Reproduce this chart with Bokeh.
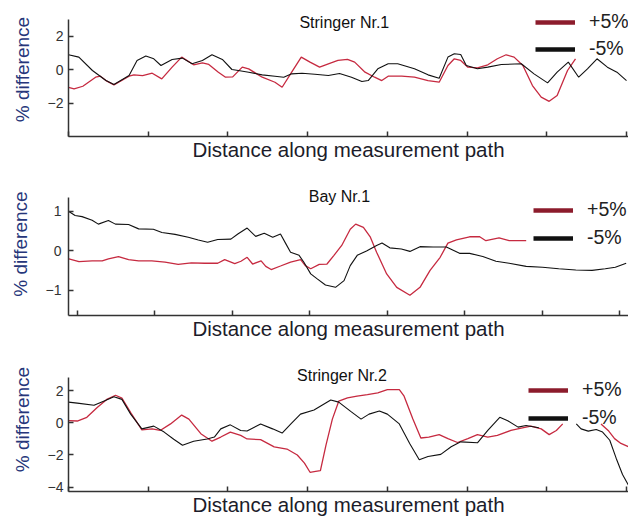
from bokeh.plotting import figure
from bokeh.models import Range1d, FixedTicker, Label, Legend, LegendItem, CustomJSTickFormatter
from bokeh.layouts import column
from bokeh.embed import file_html
from bokeh.resources import INLINE

nan = float("nan")

# ---- Stringer Nr.1 ----
s1_x_plus = [0.0, 0.07, 0.18, 0.34, 0.4, 0.47, 0.57, 0.76, 0.82, 0.93, 1.05, 1.17, 1.3, 1.42, 1.57, 1.68,
             1.76, 1.88, 1.97, 2.06, 2.18, 2.26, 2.43, 2.59, 2.68, 2.8, 2.92, 3.03, 3.15, 3.26, 3.38, 3.5,
             3.59, 3.72, 3.84, 3.93, 4.01, 4.18, 4.34, 4.51, 4.65, 4.76, 4.84, 4.92, 5.01, 5.13, 5.26, 5.38,
             5.49, 5.59, 5.7, 5.82, 5.93, 6.03, 6.13, 6.26, 6.36]
s1_y_plus = [-1.06, -1.15, -1.0, -0.46, -0.4, -0.66, -0.92, -0.4, -0.32, -0.36, -0.22, -0.56, 0.14, 0.74, 0.28, 0.4,
             0.3, -0.16, -0.46, -0.44, 0.14, 0.04, -0.46, -0.76, -1.06, -0.16, 0.74, 0.44, 0.14, 0.34, 0.54, 0.6,
             0.44, -0.16, -0.46, -0.66, -0.4, -0.4, -0.46, -0.66, -0.76, 0.24, 0.64, 0.54, 0.14, 0.1, 0.28, 0.64,
             0.88, 0.74, 0.24, -0.96, -1.65, -1.9, -1.55, -0.06, 0.64]
s1_x_minus = [0.0, 0.13, 0.3, 0.47, 0.57, 0.76, 0.86, 0.97, 1.07, 1.16, 1.3, 1.43, 1.55, 1.68, 1.8, 1.93,
              2.05, 2.13, 2.26, 2.43, 2.59, 2.7, 2.8, 2.93, 3.09, 3.26, 3.4, 3.55, 3.68, 3.76, 3.88, 4.01,
              4.13, 4.34, 4.51, 4.65, 4.76, 4.84, 4.92, 4.99, 5.13, 5.26, 5.43, 5.68, 5.84, 6.01, 6.13, 6.27,
              6.4, 6.51, 6.63, 6.76, 6.88, 7.0]
s1_y_minus = [0.88, 0.74, -0.06, -0.66, -0.9, -0.36, 0.54, 0.8, 0.64, 0.24, 0.6, 0.68, 0.34, 0.54, 0.88, 0.6,
              0.0, -0.06, -0.16, -0.32, -0.4, -0.46, -0.26, -0.22, -0.28, -0.36, -0.24, -0.46, -0.72, -0.66, 0.04, 0.34,
              0.34, 0.04, -0.32, -0.52, 0.74, 0.94, 0.9, 0.24, 0.04, 0.14, 0.3, 0.34, -0.26, -0.8, -0.16, 0.44,
              -0.46, 0.04, 0.64, 0.14, -0.16, -0.66]

# ---- Bay Nr.1 ----
b1_x_plus = [-0.11, 0.02, 0.19, 0.32, 0.4, 0.53, 0.66, 0.79, 0.96, 1.13, 1.3, 1.47, 1.64, 1.81, 1.9, 2.03,
             2.11, 2.19, 2.26, 2.37, 2.43, 2.5, 2.62, 2.75, 2.88, 2.94, 3.01, 3.12, 3.22, 3.31, 3.41, 3.52,
             3.59, 3.69, 3.78, 3.86, 3.99, 4.12, 4.29, 4.42, 4.55, 4.68, 4.78, 4.89, 5.06, 5.19, 5.27, 5.44,
             5.57, 5.79]
b1_y_plus = [-0.2, -0.27, -0.25, -0.25, -0.2, -0.14, -0.22, -0.25, -0.25, -0.28, -0.34, -0.3, -0.31, -0.31, -0.22, -0.32,
             -0.26, -0.16, -0.33, -0.25, -0.39, -0.47, -0.38, -0.28, -0.22, -0.37, -0.45, -0.34, -0.33, -0.11, 0.14, 0.55,
             0.68, 0.6, 0.35, -0.03, -0.58, -0.92, -1.12, -0.92, -0.49, -0.16, 0.2, 0.28, 0.36, 0.36, 0.26, 0.33,
             0.26, 0.26]
b1_x_minus = [-0.11, -0.03, 0.06, 0.19, 0.27, 0.4, 0.49, 0.66, 0.79, 0.98, 1.09, 1.26, 1.43, 1.56, 1.68, 1.81,
              1.98, 2.07, 2.19, 2.3, 2.41, 2.52, 2.62, 2.69, 2.75, 2.86, 2.92, 3.01, 3.09, 3.2, 3.33, 3.44,
              3.52, 3.61, 3.73, 3.86, 3.93, 4.03, 4.18, 4.29, 4.42, 4.59, 4.76, 4.93, 5.06, 5.23, 5.4, 5.57,
              5.79, 6.0, 6.21, 6.43, 6.64, 6.81, 6.94, 7.08]
b1_y_minus = [1.0, 0.9, 0.87, 0.78, 0.68, 0.77, 0.68, 0.67, 0.56, 0.55, 0.47, 0.42, 0.35, 0.28, 0.22, 0.29,
              0.3, 0.43, 0.58, 0.37, 0.45, 0.35, 0.43, 0.18, -0.03, -0.11, -0.28, -0.58, -0.7, -0.86, -0.92, -0.75,
              -0.37, -0.11, 0.0, 0.14, 0.2, 0.08, 0.05, -0.01, 0.11, 0.1, 0.1, -0.06, -0.06, -0.14, -0.26, -0.31,
              -0.39, -0.41, -0.45, -0.48, -0.49, -0.45, -0.41, -0.31]

# ---- Stringer Nr.2 (gaps are missing readings) ----
s2_x_plus = [0.0, 0.11, 0.23, 0.36, 0.48, 0.59, 0.67, 0.78, 0.92, 1.05, 1.15, 1.28, 1.42, 1.51, 1.66, 1.8,
             1.91, 2.03, 2.16, 2.24, 2.41, 2.58, 2.74, 2.87, 2.96, 3.03, 3.1, 3.16, 3.23, 3.31, 3.39, 3.5,
             3.62, 3.75, 3.88, 4.0, 4.15, 4.21, 4.32, 4.42, 4.52, 4.65, 4.76, 4.88, 5.01, 5.13, 5.26, 5.38,
             5.55, 5.68, 5.8, 5.93, 6.03, 6.12, 6.2, 6.4, 6.68, 6.77, 6.85, 6.93, 7.03]
s2_y_plus = [0.14, 0.12, 0.35, 0.96, 1.47, 1.73, 1.55, 0.65, -0.43, -0.37, -0.47, -0.06, 0.49, 0.24, -0.67, -1.14,
             -0.88, -0.57, -0.78, -1.0, -1.04, -1.49, -1.63, -2.0, -2.51, -3.08, -3.02, -2.98, -1.39, 0.24, 1.36, 1.57,
             1.67, 1.77, 1.88, 2.08, 2.08, 1.67, 0.24, -0.94, -0.88, -0.73, -0.98, -1.22, -0.98, -0.73, -0.88, -0.78,
             -0.47, -0.33, -0.2, -0.37, -0.73, -0.47, -0.06, nan, -0.06, -0.47, -0.98, -1.28, -1.49]
s2_x_minus = [0.0, 0.11, 0.32, 0.44, 0.57, 0.67, 0.78, 0.92, 1.07, 1.2, 1.32, 1.43, 1.57, 1.74, 1.83, 1.91,
              2.03, 2.16, 2.24, 2.41, 2.56, 2.68, 2.79, 2.91, 3.08, 3.29, 3.39, 3.54, 3.67, 3.77, 3.9, 4.0,
              4.15, 4.28, 4.4, 4.51, 4.67, 4.8, 4.92, 5.13, 5.26, 5.41, 5.51, 5.64, 5.74, 5.9, 6.1, 6.37,
              6.43, 6.52, 6.62, 6.7, 6.79, 6.87, 6.95, 7.03]
s2_y_minus = [1.3, 1.24, 1.1, 1.36, 1.63, 1.47, 0.55, -0.37, -0.2, -0.57, -1.02, -1.39, -1.14, -1.0, -0.88, -0.37,
              -0.12, -0.47, -0.5, -0.06, -0.37, -0.63, -0.06, 0.55, 0.81, 1.43, 1.3, 0.72, 0.24, 0.55, 0.75, 0.55,
              -0.06, -1.28, -2.3, -2.1, -1.96, -1.49, -1.18, -1.24, -0.47, 0.35, 0.14, -0.26, -0.16, -0.3, nan, -0.06,
              -0.37, -0.51, -0.41, -0.57, -1.08, -2.2, -3.22, -3.93]

x_ticks = [0, 1, 2, 3, 4, 5, 6, 7]
series_labels = ["+5%", "-5%"]

RED_LINE = "#c62a40"
RED_KEY = "#8c1c2c"
BLACK = "#111111"
FONT = "Liberation Sans"


def panel(title, title_xy, x_rng, y_rng, y_axis_top, y_ticks, height, left, bottom,
          legend_xy, legend_gap, plus_xy, minus_xy, tick_standoff):
    p = figure(width=628, height=height, x_range=Range1d(*x_rng), y_range=Range1d(*y_rng),
               output_backend="svg", toolbar_location=None,
               min_border_left=left, min_border_right=0, min_border_top=2, min_border_bottom=bottom)
    p.grid.visible = False
    p.outline_line_color = None

    # distance axis: unlabelled ticks only
    p.xaxis.ticker = FixedTicker(ticks=x_ticks)
    p.xaxis.formatter = CustomJSTickFormatter(code="return ''")
    p.xaxis.major_label_text_font_size = "1px"
    p.xaxis.major_label_standoff = 0
    p.xaxis.axis_label = "Distance along measurement path"
    p.xaxis.axis_label_standoff = 1
    p.xaxis.axis_label_text_color = "#1c1c2a"
    p.xaxis.axis_label_text_font_size = "20.5px"

    # the vertical axis line stops below the title / key area
    p.yaxis.ticker = FixedTicker(ticks=y_ticks)
    p.yaxis.bounds = (y_rng[0], y_axis_top)
    p.yaxis.axis_label = "% difference"
    p.yaxis.axis_label_standoff = 12
    p.yaxis.axis_label_text_color = "#26367a"
    p.yaxis.axis_label_text_font_size = "19px"
    p.yaxis.major_label_text_font_size = "14px"
    p.yaxis.major_label_text_color = "#333333"
    p.yaxis.major_label_standoff = tick_standoff

    for ax in (p.xaxis[0], p.yaxis[0]):
        ax.axis_line_color = "#333333"
        ax.axis_line_width = 1.5
        ax.major_tick_line_color = "#333333"
        ax.major_tick_line_width = 1.5
        ax.major_tick_in = 5
        ax.major_tick_out = 0
        ax.minor_tick_line_color = None
        ax.axis_label_text_font = FONT
        ax.axis_label_text_font_style = "normal"
        ax.major_label_text_font = FONT

    p.line(plus_xy[0], plus_xy[1], line_color=RED_LINE, line_width=1.3)
    p.line(minus_xy[0], minus_xy[1], line_color=BLACK, line_width=1.1)

    # thick key lines (hidden copies of the series, shown only in the legend)
    key_plus = p.line(plus_xy[0], plus_xy[1], line_color=RED_KEY, line_width=4.5, visible=False)
    key_minus = p.line(minus_xy[0], minus_xy[1], line_color=BLACK, line_width=4.5, visible=False)
    legend = Legend(items=[LegendItem(label=series_labels[0], renderers=[key_plus]),
                           LegendItem(label=series_labels[1], renderers=[key_minus])],
                    location=legend_xy, orientation="vertical", click_policy="none",
                    glyph_width=40, glyph_height=20, label_height=20, label_standoff=14,
                    spacing=legend_gap, padding=0, margin=0,
                    border_line_color=None, background_fill_alpha=0,
                    label_text_font=FONT, label_text_font_size="19.5px", label_text_color="#222222")
    p.add_layout(legend)

    p.add_layout(Label(x=title_xy[0], y=title_xy[1], text=title, text_align="center",
                       text_baseline="alphabetic", text_font=FONT, text_font_size="16px",
                       text_color="#111111"))
    return p


p1 = panel("Stringer Nr.1", (3.46, 2.82), (0.0, 7.025), (-4.0, 4.0), 2.99, [-2, 0, 2],
           170, 66, 34, (467, 76), 4, (s1_x_plus, s1_y_plus), (s1_x_minus, s1_y_minus), 5)
p2 = panel("Bay Nr.1", (3.38, 1.385), (-0.115, 7.11), (-1.633, 1.987), 1.354, [-1, 0, 1],
           175, 63, 30, (465, 66), 5, (b1_x_plus, b1_y_plus), (b1_x_minus, b1_y_minus), 7)
p3 = panel("Stringer Nr.2", (3.43, 2.96), (0.0, 7.025), (-4.28, 4.71), 2.81, [-4, -2, 0, 2],
           173, 68, 24, (460, 62), 5, (s2_x_plus, s2_y_plus), (s2_x_minus, s2_y_minus), 5)

layout = column(p1, p2, p3, spacing=0)
open("out.html", "w").write(file_html(layout, INLINE))
